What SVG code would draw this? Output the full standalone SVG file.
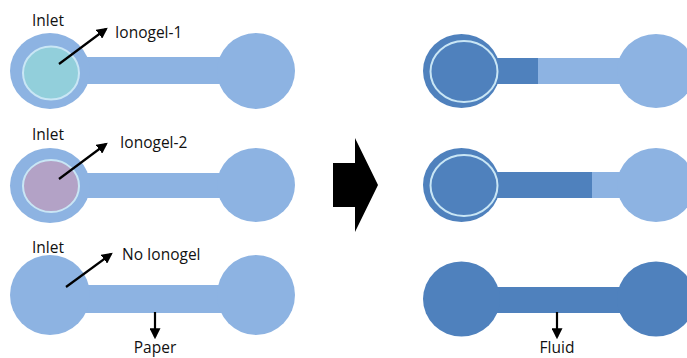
<svg xmlns="http://www.w3.org/2000/svg" width="687" height="358" viewBox="0 0 687 358">
  <defs>
    <style>
      .light { fill: #8db3e2; }
      .dark { fill: #4f81bd; }
      .ring { stroke: #c9e6f5; stroke-width: 2; }
      .lbl { font-family: "Open Sans", "Liberation Sans", sans-serif; font-size: 15.5px; fill: #111; }
      .ptr { stroke: #000; stroke-width: 2.2; fill: none; marker-end: url(#head); }
    </style>
    <marker id="head" viewBox="0 0 10 10" refX="8" refY="5" markerWidth="5" markerHeight="5" orient="auto" markerUnits="strokeWidth">
      <path d="M0,0 L10,5 L0,10 z" fill="#000"/>
    </marker>
  </defs>
  <rect width="687" height="358" fill="#fff"/>

  <!-- Left column: paper strips before flow -->
  <g id="strip-ionogel-1">
    <rect class="light" x="80" y="57" width="150" height="27"/>
    <ellipse class="light" cx="50" cy="71" rx="40" ry="38"/>
    <ellipse class="light" cx="256" cy="71" rx="39" ry="38"/>
    <ellipse class="ring" cx="51" cy="73" rx="28" ry="26.5" fill="#92cfdb"/>
    <text class="lbl" x="32" y="26">Inlet</text>
    <text class="lbl" x="115" y="38">Ionogel-1</text>
  </g>

  <g id="strip-ionogel-2">
    <rect class="light" x="80" y="173" width="150" height="25"/>
    <ellipse class="light" cx="50" cy="185.5" rx="40" ry="37.5"/>
    <ellipse class="light" cx="256" cy="185" rx="39" ry="37"/>
    <ellipse class="ring" cx="51" cy="186" rx="28" ry="26" fill="#b3a2c6"/>
    <text class="lbl" x="32" y="140">Inlet</text>
    <text class="lbl" x="120" y="148">Ionogel-2</text>
  </g>

  <g id="strip-no-ionogel">
    <rect class="light" x="80" y="285" width="150" height="28"/>
    <ellipse class="light" cx="50" cy="295" rx="40" ry="40"/>
    <ellipse class="light" cx="256" cy="295" rx="39" ry="40"/>
    <text class="lbl" x="32" y="253">Inlet</text>
    <text class="lbl" x="122" y="260">No Ionogel</text>
    <text class="lbl" x="155" y="353" text-anchor="middle">Paper</text>
  </g>

  <!-- Transition arrow -->
  <g id="transition-arrow">
    <path d="M333,163 L355,163 L355,138 L378,185 L355,232 L355,207 L333,207 z" fill="#000"/>
  </g>

  <!-- Right column: paper strips after flow -->
  <g id="strip-ionogel-1-after">
    <rect class="light" x="530" y="58" width="100" height="26"/>
    <rect class="dark" x="490" y="58" width="48" height="26"/>
    <ellipse class="light" cx="656" cy="71" rx="39" ry="37"/>
    <ellipse class="dark" cx="461.5" cy="71" rx="38.5" ry="37"/>
    <ellipse class="ring" cx="464" cy="71.5" rx="33.5" ry="30.5" fill="none"/>
  </g>

  <g id="strip-ionogel-2-after">
    <rect class="light" x="585" y="172" width="45" height="26"/>
    <rect class="dark" x="490" y="172" width="102" height="26"/>
    <ellipse class="light" cx="656" cy="185" rx="39" ry="37"/>
    <ellipse class="dark" cx="461.5" cy="185" rx="38.5" ry="37"/>
    <ellipse class="ring" cx="464" cy="185.5" rx="33.5" ry="30.5" fill="none"/>
  </g>

  <g id="strip-no-ionogel-after">
    <rect class="dark" x="490" y="287" width="140" height="26"/>
    <ellipse class="dark" cx="461.5" cy="299" rx="38.5" ry="37.5"/>
    <ellipse class="dark" cx="656" cy="299" rx="39" ry="37.5"/>
    <text class="lbl" x="557" y="353" text-anchor="middle">Fluid</text>
  </g>

  <!-- Pointer connectors -->
  <g id="connectors">
    <line class="ptr" x1="59" y1="64" x2="106" y2="29"/>
    <line class="ptr" x1="59" y1="179" x2="106" y2="144"/>
    <line class="ptr" x1="66" y1="287" x2="111" y2="254"/>
    <line class="ptr" x1="155" y1="312" x2="155" y2="337"/>
    <line class="ptr" x1="557" y1="312" x2="557" y2="337"/>
  </g>
</svg>
